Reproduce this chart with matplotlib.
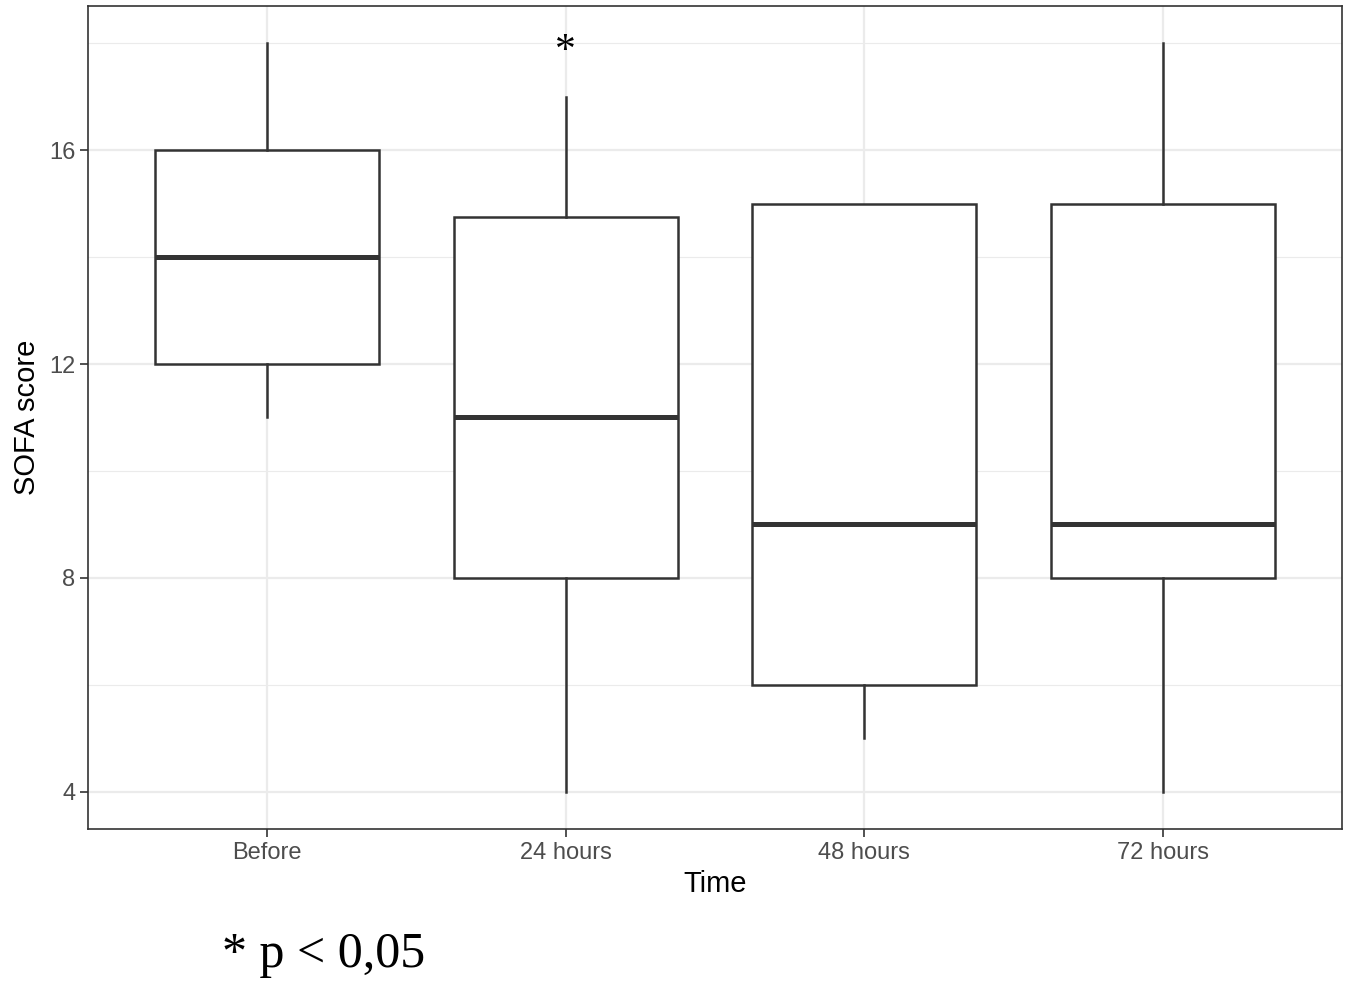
import matplotlib.pyplot as plt

# SOFA score summary per time point
groups = ['Before', '24 hours', '48 hours', '72 hours']
whislo = [11, 4, 5, 4]
q1 = [12, 8, 6, 8]
med = [14, 11, 9, 9]
q3 = [16, 14.75, 15, 15]
whishi = [18, 17, 15, 18]
star_group = 1       # index of '24 hours'
star_y = 18

stats = [dict(label=g, whislo=a, q1=b, med=c, q3=d, whishi=e, fliers=[])
         for g, a, b, c, d, e in zip(groups, whislo, q1, med, q3, whishi)]

fig = plt.figure(figsize=(13.61, 9.82), dpi=100)
ax = fig.add_axes([0.0647, 0.1558, 0.9214, 0.8381])

dark = '#333333'
ax.bxp(stats, positions=range(1, 5), widths=0.75, showcaps=False,
       patch_artist=True,
       boxprops=dict(facecolor='white', edgecolor=dark, linewidth=1.8),
       medianprops=dict(color=dark, linewidth=3.6, solid_capstyle='butt'),
       whiskerprops=dict(color=dark, linewidth=1.8),
       zorder=3)

ax.annotate('*', (1 + star_group, star_y), xytext=(0, -6),
            textcoords='offset points', ha='center', va='center',
            fontsize=30, family='Liberation Serif', color='black', zorder=4)

ax.set_xlim(0.4, 4.6)
ax.set_ylim(3.3, 18.7)
ax.set_yticks([4, 8, 12, 16])
ax.set_yticks([6, 10, 14, 18], minor=True)
ax.set_xticks(range(1, 5))
ax.set_xticklabels(groups)

ax.grid(which='major', color='#EBEBEB', linewidth=1.6, zorder=0)
ax.grid(which='minor', axis='y', color='#EBEBEB', linewidth=0.8, zorder=0)
ax.set_axisbelow(True)

for s in ax.spines.values():
    s.set_color(dark)
    s.set_linewidth(1.2)

ax.tick_params(which='major', length=6, width=1.2, color=dark,
               labelsize=17, labelcolor='#4D4D4D', pad=3)
ax.tick_params(which='minor', length=0)
for lab in ax.get_xticklabels() + ax.get_yticklabels():
    lab.set_family('Liberation Sans')

ax.set_xlabel('Time', fontsize=21, family='Liberation Sans', labelpad=5)
ax.set_ylabel('SOFA score', fontsize=21, family='Liberation Sans', labelpad=6)

fig.text(222 / 1361, 1 - 967 / 982, '* p < 0,05', fontsize=36,
         family='Liberation Serif', ha='left', va='baseline')

fig.savefig('out.png', dpi=100)
